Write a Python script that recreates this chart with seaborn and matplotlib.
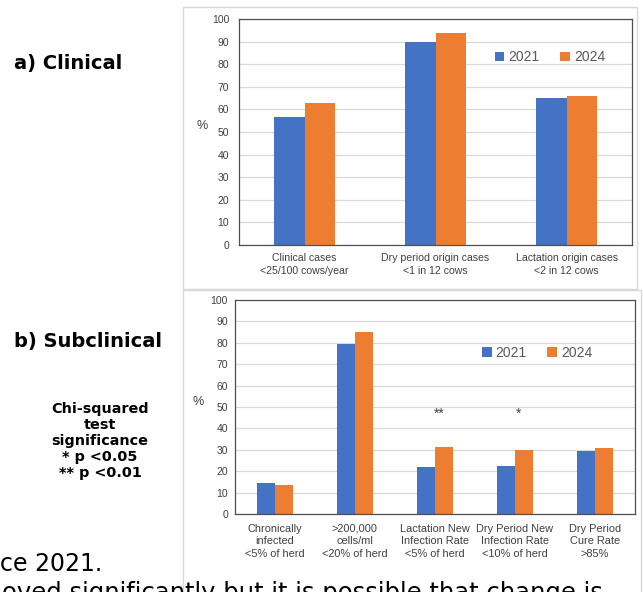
import matplotlib
matplotlib.use("Agg")
import matplotlib.pyplot as plt
from matplotlib.patches import Patch, Rectangle
import seaborn as sns
import pandas as pd

# Data
years = ["2021", "2024"]
clinical_categories = [
    "Clinical cases\n<25/100 cows/year",
    "Dry period origin cases\n<1 in 12 cows",
    "Lactation origin cases\n<2 in 12 cows",
]
clinical_2021 = [56.5, 90, 65]
clinical_2024 = [63, 94, 66]

subclinical_categories = [
    "Chronically\ninfected\n<5% of herd",
    ">200,000\ncells/ml\n<20% of herd",
    "Lactation New\nInfection Rate\n<5% of herd",
    "Dry Period New\nInfection Rate\n<10% of herd",
    "Dry Period\nCure Rate\n>85%",
]
subclinical_2021 = [14.5, 79.5, 22, 22.5, 29.5]
subclinical_2024 = [13.5, 85, 31.5, 30, 31]

significance_marks = ["", "", "**", "*", ""]
significance_height = 47

y_ticks = list(range(0, 101, 10))

BLUE = "#4472C4"
ORANGE = "#ED7D31"
TEXT = "#404040"

W, H = 643, 592
sns.set_theme(style="white")
plt.rcParams["font.family"] = ["Liberation Sans", "DejaVu Sans"]

fig = plt.figure(figsize=(W / 100, H / 100), dpi=100)
fig.patch.set_facecolor("white")


def fx(px):
    return px / W


def fy(py):
    return 1 - py / H


def long_frame(categories, v2021, v2024):
    rows = []
    for c, a, b in zip(categories, v2021, v2024):
        rows.append({"category": c, "year": years[0], "value": a})
        rows.append({"category": c, "year": years[1], "value": b})
    return pd.DataFrame(rows)


def style_axes(ax, xfont, ypad, xpad, linespacing):
    ax.set_ylim(0, 100)
    ax.set_yticks(y_ticks)
    ax.yaxis.grid(True, color="#D9D9D9", linewidth=0.9)
    ax.xaxis.grid(False)
    ax.set_axisbelow(True)
    for s in ax.spines.values():
        s.set_visible(True)
        s.set_color("#505050")
        s.set_linewidth(0.9)
    ax.tick_params(axis="y", length=0, pad=ypad, labelsize=7.5, labelcolor=TEXT)
    ax.tick_params(axis="x", length=0, pad=xpad, labelsize=xfont, labelcolor=TEXT)
    for lab in ax.get_xticklabels():
        lab.set_linespacing(linespacing)
    ax.set_xlabel("")


def add_legend(ax, cx, cy):
    handles = [Patch(facecolor=BLUE, edgecolor="none"),
               Patch(facecolor=ORANGE, edgecolor="none")]
    leg = ax.legend(handles, years, loc="center", bbox_to_anchor=(cx, cy),
                    ncol=2, frameon=False, fontsize=10,
                    handlelength=0.7, handleheight=0.7, handletextpad=0.3,
                    columnspacing=1.45, borderaxespad=0)
    for t in leg.get_texts():
        t.set_color("#595959")


# Panel frames
fig.add_artist(Rectangle((fx(183), fy(289)), fx(637) - fx(183), fy(7) - fy(289),
                         transform=fig.transFigure, fill=False,
                         edgecolor="#D9D9D9", linewidth=1))
fig.add_artist(Rectangle((fx(183), fy(600)), fx(641) - fx(183), fy(290) - fy(600),
                         transform=fig.transFigure, fill=False,
                         edgecolor="#D9D9D9", linewidth=1))

# a) Clinical
ax1 = fig.add_axes([fx(239), fy(245), fx(632) - fx(239), fy(19) - fy(245)])
df1 = long_frame(clinical_categories, clinical_2021, clinical_2024)
sns.barplot(data=df1, x="category", y="value", hue="year",
            palette=[BLUE, ORANGE], width=0.47, saturation=1,
            errorbar=None, legend=False, linewidth=0, edgecolor="none", ax=ax1)
style_axes(ax1, 7.6, 7, 6, 1.3)
ax1.set_ylabel("%", rotation=0, fontsize=9, color=TEXT)
ax1.yaxis.set_label_coords(-0.094, 0.5)
add_legend(ax1, 0.791, 0.83)

# b) Subclinical
ax2 = fig.add_axes([fx(235), fy(514), fx(635) - fx(235), fy(300) - fy(514)])
df2 = long_frame(subclinical_categories, subclinical_2021, subclinical_2024)
sns.barplot(data=df2, x="category", y="value", hue="year",
            palette=[BLUE, ORANGE], width=0.46, saturation=1,
            errorbar=None, legend=False, linewidth=0, edgecolor="none", ax=ax2)
style_axes(ax2, 7.9, 5, 7, 1.3)
ax2.set_ylabel("%", rotation=0, fontsize=9, color=TEXT)
ax2.yaxis.set_label_coords(-0.0925, 0.495)
add_legend(ax2, 0.755, 0.752)
for i, mark in enumerate(significance_marks):
    if mark:
        ax2.text(i + 0.05, significance_height, mark, ha="center", va="center",
                 fontsize=10, color=TEXT)

# Side annotations
bold = dict(fontweight="bold", color="black", family="DejaVu Sans")
fig.text(fx(14), fy(63), "a) Clinical", ha="left", va="center", fontsize=14, **bold)
fig.text(fx(14), fy(342), "b) Subclinical", ha="left", va="center", fontsize=14, **bold)
fig.text(fx(100), fy(441),
         "Chi-squared\ntest\nsignificance\n* p <0.05\n** p <0.01",
         ha="center", va="center", fontsize=10.4, linespacing=1.2,
         multialignment="center", **bold)

# Surrounding document text
fig.text(fx(0), fy(571), "ce 2021.", ha="left", va="baseline",
         fontsize=17, color="black", family="DejaVu Sans")
fig.text(fx(2), fy(600), "oved significantly but it is possible that change is",
         ha="left", va="baseline", fontsize=17.5, color="black", family="DejaVu Sans")

fig.savefig("out.png", dpi=100, facecolor="white")
